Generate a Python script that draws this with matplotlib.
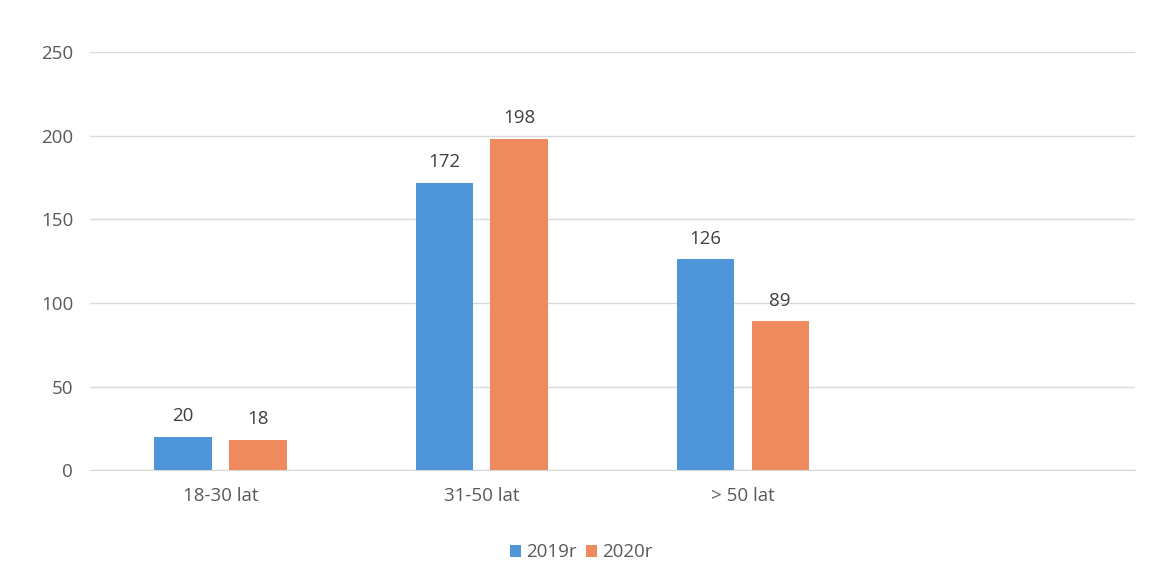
import numpy as np
import matplotlib
matplotlib.use("Agg")
import matplotlib.pyplot as plt

plt.rcParams['font.family'] = ['Open Sans', 'DejaVu Sans']

kategorie = ['18-30 lat', '31-50 lat', '> 50 lat', '']
wartosci_2019 = [20, 172, 126, None]
wartosci_2020 = [18, 198, 89, None]
serie = ['2019r', '2020r']
kolory = ['#4E95D9', '#EE8A5E']

fig = plt.figure(figsize=(11.52, 5.79), dpi=100)
ax = fig.add_axes([0.078, 0.188, 0.907, 0.722])

x = np.arange(len(kategorie))
szer = 0.22
przes = 0.143

for i, (vals, nazwa, kol) in enumerate(zip([wartosci_2019, wartosci_2020], serie, kolory)):
    xs = [xi for xi, v in zip(x, vals) if v is not None]
    vs = [v for v in vals if v is not None]
    pos = np.array(xs) + (i - 0.5) * 2 * przes
    bars = ax.bar(pos, vs, width=szer, color=kol, label=nazwa, zorder=3)
    for b, v in zip(bars, vs):
        ax.text(b.get_x() + b.get_width() / 2, v + 7, str(v), ha='center', va='bottom',
                fontsize=13.5, color='#404040')

ax.set_xlim(-0.5, 3.5)
ax.set_ylim(0, 250)
ax.set_yticks(range(0, 251, 50))
ax.set_xticks(x)
ax.set_xticklabels(kategorie)
ax.grid(axis='y', color='#D9D9D9', linewidth=1, zorder=0)
for s in ['top', 'right', 'left']:
    ax.spines[s].set_visible(False)
ax.spines['bottom'].set_color('#D9D9D9')
ax.tick_params(axis='both', length=0, labelsize=13.5, colors='#595959', pad=12)
ax.tick_params(axis='x', pad=12)

ax.legend(loc='upper center', bbox_to_anchor=(0.47, -0.135), ncol=2, frameon=False,
          fontsize=13.5, handlelength=0.6, handleheight=0.6, handletextpad=0.25,
          columnspacing=0.5, labelcolor='#595959')

fig.savefig('out.png', dpi=100)
